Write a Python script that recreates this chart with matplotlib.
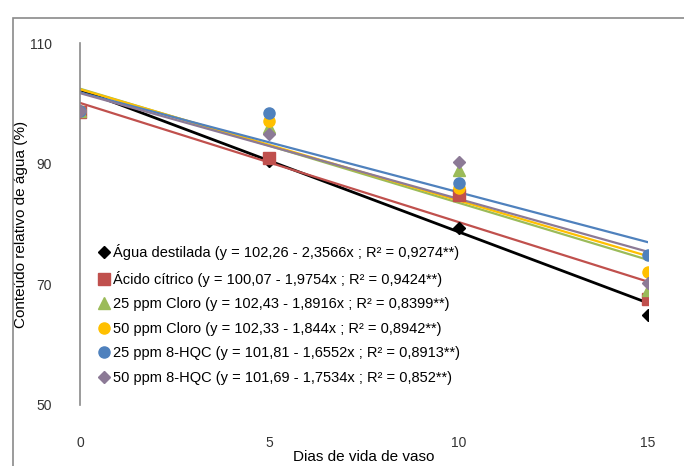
import numpy as np
import matplotlib
matplotlib.use("Agg")
import matplotlib.pyplot as plt
from matplotlib.patches import Rectangle

plt.rcParams['font.family'] = ['Liberation Sans', 'DejaVu Sans']

# dados
dias = [0, 5, 10, 15]
series = ["Água destilada", "Ácido cítrico", "25 ppm Cloro", "50 ppm Cloro",
          "25 ppm 8-HQC", "50 ppm 8-HQC"]
agua = [98.8, 90.5, 79.4, 64.9]
acido = [98.6, 91.0, 84.8, 67.6]
cloro25 = [98.8, 96.0, 89.0, 69.1]
cloro50 = [98.8, 97.0, 86.0, 72.0]
hqc25 = [98.7, 98.4, 86.8, 74.9]
hqc50 = [98.8, 95.0, 90.3, 70.3]
intercepto = [102.26, 100.07, 102.43, 102.33, 101.81, 101.69]
inclinacao = [-2.3566, -1.9754, -1.8916, -1.844, -1.6552, -1.7534]
eq_txt = ["(y = 102,26 - 2,3566x ; R² = 0,9274**)",
          "(y = 100,07 - 1,9754x ; R² = 0,9424**)",
          "(y = 102,43 - 1,8916x ; R² = 0,8399**)",
          "(y = 102,33 - 1,844x ; R² = 0,8942**)",
          "(y = 101,81 - 1,6552x ; R² = 0,8913**)",
          "(y = 101,69 - 1,7534x ; R² = 0,852**)"]

valores = [agua, acido, cloro25, cloro50, hqc25, hqc50]
cores = ["#000000", "#C0504D", "#9BBB59", "#FFC000", "#4F81BD", "#8C7A96"]
marcas = ["D", "s", "^", "o", "o", "D"]
tam = [6, 8, 8, 8, 8, 6]

fig = plt.figure(figsize=(6.84, 4.66), dpi=100)
fig.patches.append(Rectangle((13 / 684, -0.1), 1.2, 1 - 18 / 466 + 0.1,
                             transform=fig.transFigure, fill=False,
                             edgecolor="#8a8a8a", linewidth=1.2))
ax = fig.add_axes([80 / 684, 61 / 466, 568 / 684, 362 / 466])

xx = np.array([0, 15])
for i in range(6):
    ax.plot(xx, intercepto[i] + inclinacao[i] * xx, color=cores[i],
            lw=2.0 if i == 0 else 1.6, zorder=2)
for i in range(6):
    ax.plot(dias, valores[i], linestyle="none", marker=marcas[i],
            markersize=tam[i], color=cores[i], zorder=3,
            label=series[i] + " " + eq_txt[i])

ax.set_xlim(0, 15)
ax.set_ylim(50, 110)
ax.set_xticks([0, 5, 10, 15])
ax.set_yticks([50, 70, 90, 110])
for s in ["top", "right", "bottom"]:
    ax.spines[s].set_visible(False)
ax.spines["left"].set_color("#8a8a8a")
ax.spines["left"].set_linewidth(1.2)
ax.tick_params(axis="y", length=0, pad=20, labelsize=10, colors="#333333")
ax.tick_params(axis="x", length=0, pad=22, labelsize=10, colors="#333333")
ax.set_xlabel("Dias de vida de vaso", fontsize=11)
ax.xaxis.set_label_coords(0.5, -0.125)
ax.set_ylabel("Conteúdo relativo de água (%)", fontsize=11)
ax.yaxis.set_label_coords(-0.092, 0.5)

ax.legend(loc="upper left", bbox_to_anchor=(0.02, 0.46), frameon=False,
          fontsize=10.5, handletextpad=0.1, handlelength=1.0,
          labelspacing=0.72, borderaxespad=0)

fig.savefig("out.png", dpi=100)
